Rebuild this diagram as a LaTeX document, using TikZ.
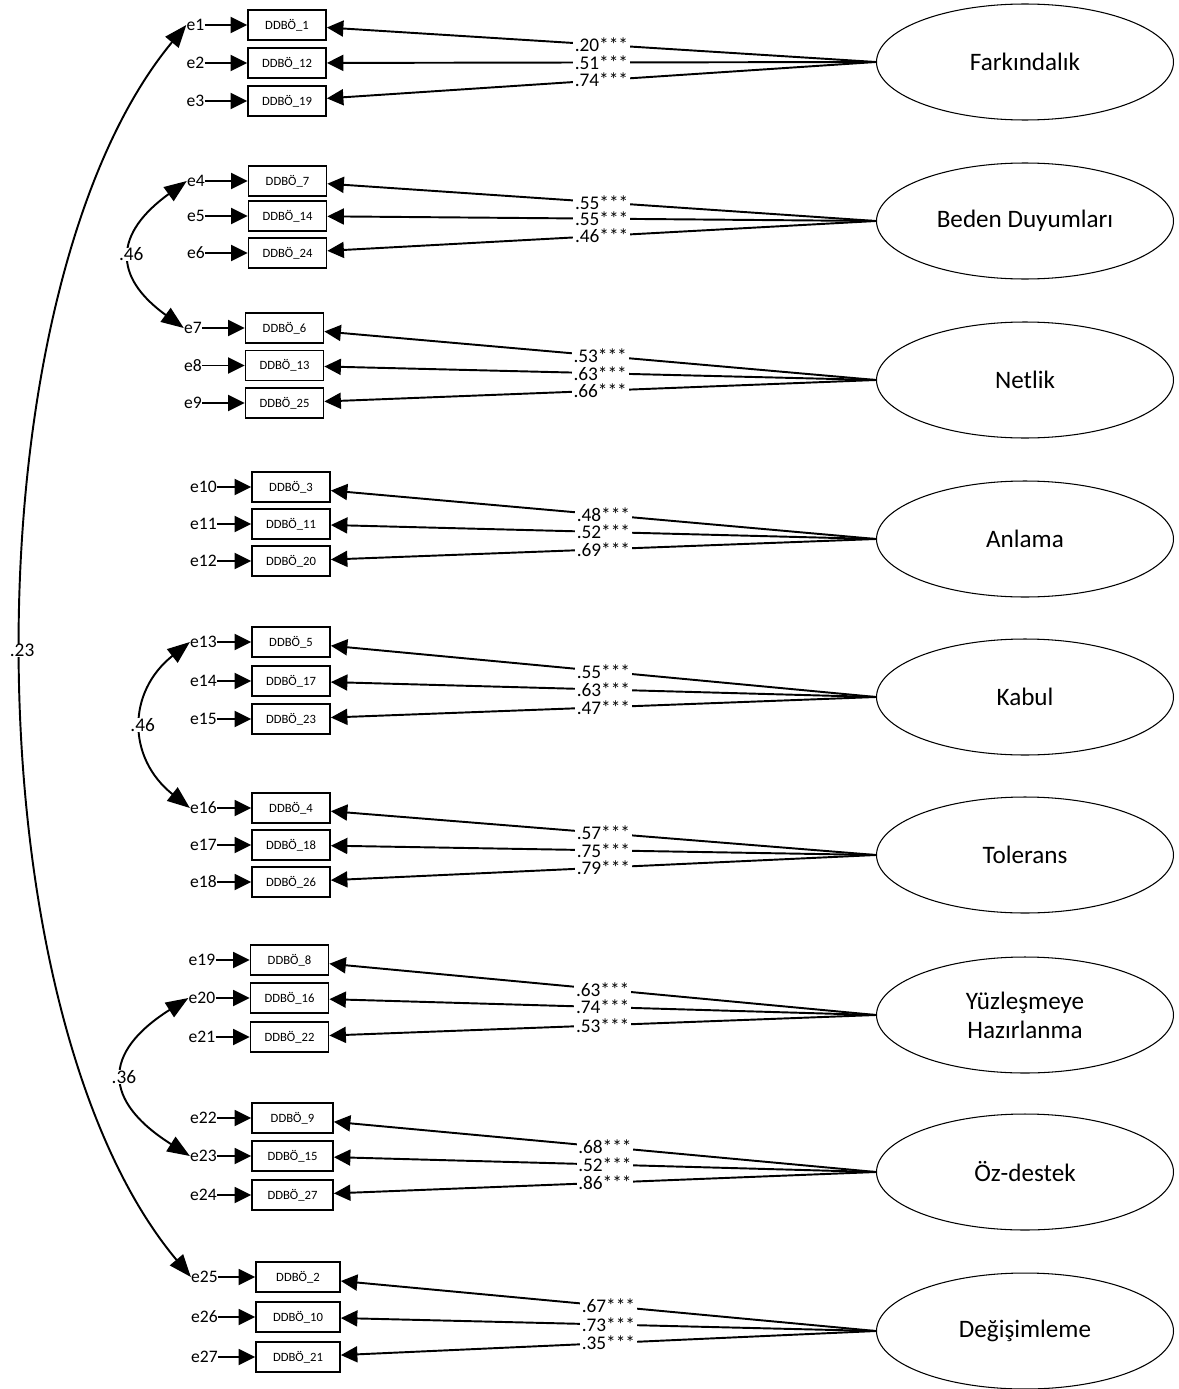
\documentclass[tikz,border=0pt]{standalone}
\usepackage{fontspec}
\setmainfont{Carlito}
\usetikzlibrary{shapes.geometric,arrows.meta,positioning}

\begin{document}
\begin{tikzpicture}[x=0.02cm,y=-0.02cm,node distance=0.85cm,
   item/.style={draw,line width=1pt,minimum width=1.56cm,minimum height=0.6cm,inner sep=0pt,font=\fontsize{7.2}{8}\selectfont},
   factor/.style={draw,ellipse,line width=0.6pt,minimum width=5.94cm,minimum height=2.32cm,inner sep=0pt,align=center,font=\fontsize{14.3}{16.5}\selectfont},
   err/.style={inner sep=0pt,font=\fontsize{10}{12}\selectfont},
   load/.style={-{Triangle[length=0.33cm,width=0.32cm]},line width=1.1pt},
   cov/.style={{Triangle[length=0.45cm,width=0.34cm]}-{Triangle[length=0.45cm,width=0.34cm]},line width=1.1pt},
   val/.style={fill=white,inner xsep=1pt,inner ysep=0pt,font=\fontsize{11}{13}\selectfont}]
   \useasboundingbox (0,0) rectangle (1178,1389);
   % factors
   \node[factor] (f_1) at (1025,62) {Farkındalık};
   \node[factor] (f_2) at (1025,221) {Beden Duyumları};
   \node[factor] (f_3) at (1025,380) {Netlik};
   \node[factor] (f_4) at (1025,539) {Anlama};
   \node[factor] (f_5) at (1025,697) {Kabul};
   \node[factor] (f_6) at (1025,855) {Tolerans};
   \node[factor] (f_7) at (1025,1015) {Yüzleşmeye\\Hazırlanma};
   \node[factor] (f_8) at (1025,1172) {Öz-destek};
   \node[factor] (f_9) at (1025,1331) {Değişimleme};
   % items
   \node[item] (d_1) at (287,25) {DDBÖ\_1};
   \node[item] (d_12) at (287,63) {DDBÖ\_12};
   \node[item] (d_19) at (287,101) {DDBÖ\_19};
   \node[item] (d_7) at (287.5,181) {DDBÖ\_7};
   \node[item] (d_14) at (287.5,216) {DDBÖ\_14};
   \node[item] (d_24) at (287.5,253) {DDBÖ\_24};
   \node[item] (d_6) at (284.5,328) {DDBÖ\_6};
   \node[item] (d_13) at (284.5,365.5) {DDBÖ\_13};
   \node[item] (d_25) at (284.5,403) {DDBÖ\_25};
   \node[item] (d_3) at (291,487) {DDBÖ\_3};
   \node[item] (d_11) at (291,524) {DDBÖ\_11};
   \node[item] (d_20) at (291,561) {DDBÖ\_20};
   \node[item] (d_5) at (291,642) {DDBÖ\_5};
   \node[item] (d_17) at (291,681) {DDBÖ\_17};
   \node[item] (d_23) at (291,719) {DDBÖ\_23};
   \node[item] (d_4) at (291,808) {DDBÖ\_4};
   \node[item] (d_18) at (291,845) {DDBÖ\_18};
   \node[item] (d_26) at (291,882) {DDBÖ\_26};
   \node[item] (d_8) at (289.5,960) {DDBÖ\_8};
   \node[item] (d_16) at (289.5,998) {DDBÖ\_16};
   \node[item] (d_22) at (289.5,1037) {DDBÖ\_22};
   \node[item,minimum width=1.62cm] (d_9) at (292.5,1118) {DDBÖ\_9};
   \node[item,minimum width=1.62cm] (d_15) at (292.5,1156) {DDBÖ\_15};
   \node[item,minimum width=1.62cm] (d_27) at (292.5,1195) {DDBÖ\_27};
   \node[item,minimum width=1.68cm] (d_2) at (298,1277) {DDBÖ\_2};
   \node[item,minimum width=1.68cm] (d_10) at (298,1317) {DDBÖ\_10};
   \node[item,minimum width=1.68cm] (d_21) at (298,1357) {DDBÖ\_21};
   % errors
   \node[err] (e_1) [left=of d_1] {e1};
   \node[err] (e_2) [left=of d_12] {e2};
   \node[err] (e_3) [left=of d_19] {e3};
   \node[err] (e_4) [left=of d_7] {e4};
   \node[err] (e_5) [left=of d_14] {e5};
   \node[err] (e_6) [left=of d_24] {e6};
   \node[err] (e_7) [left=of d_6] {e7};
   \node[err] (e_8) [left=of d_13] {e8};
   \node[err] (e_9) [left=of d_25] {e9};
   \node[err] (e_10) [left=0.68cm of d_3] {e10};
   \node[err] (e_11) [left=0.68cm of d_11] {e11};
   \node[err] (e_12) [left=0.68cm of d_20] {e12};
   \node[err] (e_13) [left=0.68cm of d_5] {e13};
   \node[err] (e_14) [left=0.68cm of d_17] {e14};
   \node[err] (e_15) [left=0.68cm of d_23] {e15};
   \node[err] (e_16) [left=0.68cm of d_4] {e16};
   \node[err] (e_17) [left=0.68cm of d_18] {e17};
   \node[err] (e_18) [left=0.68cm of d_26] {e18};
   \node[err] (e_19) [left=0.68cm of d_8] {e19};
   \node[err] (e_20) [left=0.68cm of d_16] {e20};
   \node[err] (e_21) [left=0.68cm of d_22] {e21};
   \node[err] (e_22) [left=0.68cm of d_9] {e22};
   \node[err] (e_23) [left=0.68cm of d_15] {e23};
   \node[err] (e_24) [left=0.68cm of d_27] {e24};
   \node[err] (e_25) [left=0.74cm of d_2] {e25};
   \node[err] (e_26) [left=0.74cm of d_10] {e26};
   \node[err] (e_27) [left=0.74cm of d_21] {e27};
   \path[load]
   (e_1) edge (d_1)   (e_2) edge (d_12)  (e_3) edge (d_19)
   (e_4) edge (d_7)   (e_5) edge (d_14)  (e_6) edge (d_24)
   (e_7) edge (d_6)   (e_8) edge (d_13)  (e_9) edge (d_25)
   (e_10) edge (d_3)  (e_11) edge (d_11) (e_12) edge (d_20)
   (e_13) edge (d_5)  (e_14) edge (d_17) (e_15) edge (d_23)
   (e_16) edge (d_4)  (e_17) edge (d_18) (e_18) edge (d_26)
   (e_19) edge (d_8)  (e_20) edge (d_16) (e_21) edge (d_22)
   (e_22) edge (d_9)  (e_23) edge (d_15) (e_24) edge (d_27)
   (e_25) edge (d_2)  (e_26) edge (d_10) (e_27) edge (d_21);
   % loadings
   \path[load]
   (f_1.west) edge node[val] {.20***} (d_1)
              edge node[val] {.51***} (d_12)
              edge node[val] {.74***} (d_19)
   (f_2.west) edge node[val] {.55***} (d_7)
              edge node[val] {.55***} (d_14)
              edge node[val] {.46***} (d_24)
   (f_3.west) edge node[val] {.53***} (d_6)
              edge node[val] {.63***} (d_13)
              edge node[val] {.66***} (d_25)
   (f_4.west) edge node[val] {.48***} (d_3)
              edge node[val] {.52***} (d_11)
              edge node[val] {.69***} (d_20)
   (f_5.west) edge node[val] {.55***} (d_5)
              edge node[val] {.63***} (d_17)
              edge node[val] {.47***} (d_23)
   (f_6.west) edge node[val] {.57***} (d_4)
              edge node[val] {.75***} (d_18)
              edge node[val] {.79***} (d_26)
   (f_7.west) edge node[val] {.63***} (d_8)
              edge node[val] {.74***} (d_16)
              edge node[val] {.53***} (d_22)
   (f_8.west) edge node[val] {.68***} (d_9)
              edge node[val] {.52***} (d_15)
              edge node[val] {.86***} (d_27)
   (f_9.west) edge node[val] {.67***} (d_2)
              edge node[val] {.73***} (d_10)
              edge node[val] {.35***} (d_21);
   % covariances
   \draw[cov] (e_1.west) .. controls +(-220,265) and +(-224,-267) .. (e_25.west) node[val,pos=0.5] {.23};
   \draw[cov] (e_4.west) .. controls +(-72,52) and +(-72,-52) .. (e_7.west) node[val,pos=0.5] {.46};
   \draw[cov] (e_13.west) .. controls +(-63,50) and +(-63,-50) .. (e_16.west) node[val,pos=0.5] {.46};
   \draw[cov] (e_20.west) .. controls +(-87,55) and +(-87,-55) .. (e_23.west) node[val,pos=0.5] {.36};
\end{tikzpicture}
\end{document}
